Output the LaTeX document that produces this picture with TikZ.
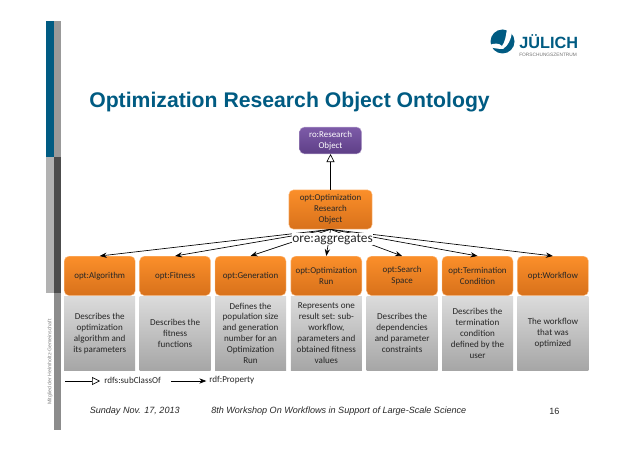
\documentclass[tikz,border=0pt]{standalone}
\usepackage{fontspec}
\setmainfont{Carlito}
\newfontfamily\arialfont{Liberation Sans}
\usetikzlibrary{arrows.meta, positioning}
\definecolor{fzjblue}{HTML}{005B82}
\definecolor{optorange}{HTML}{FB8F2A}
\definecolor{optorangedark}{HTML}{D8711B}
\definecolor{ropurple}{HTML}{7D5BA8}
\definecolor{ropurpledark}{HTML}{5E3F87}
\tikzset{
  optbox/.style={rounded corners=3.5pt, top color=optorange, bottom color=optorangedark, draw=optorange!50!white, line width=0.3pt, minimum width=53.25pt, minimum height=29.5pt, inner sep=1pt, align=center, text=black!85, font=\fontsize{6.7}{8.2}\selectfont},
  descbox/.style={top color=black!14, bottom color=black!35, minimum width=53.25pt, minimum height=55.5pt, inner sep=0pt, align=center, text=black!85, font=\fontsize{6.8}{8.2}\selectfont},
  legendtext/.style={inner sep=0pt, anchor=west, text=black!85, font=\fontsize{6.8}{8}\selectfont},
  foottext/.style={inner sep=0pt, anchor=west, text=black!85, font=\arialfont\fontsize{6.8}{8}\selectfont}
}
\begin{document}
\begin{tikzpicture}[x=0.75pt, y=-0.75pt, >=Stealth]
  \useasboundingbox (0,0) rectangle (638,452);
  % side bars
  \fill[fzjblue] (46,21) rectangle (53.5,157);
  \fill[black!40] (53.5,21) rectangle (61,157);
  \fill[black!30] (46,157) rectangle (53.5,293);
  \fill[black!70] (53.5,157) rectangle (61,293);
  \fill[black!45] (53.5,293) rectangle (61,430);
  \node[rotate=90, inner sep=0pt, text=black!50, font=\arialfont\fontsize{3.9}{4}\selectfont] (member) at (50,362) {Mitglied der Helmholtz-Gemeinschaft};
  % logo
  \fill[fzjblue] (502.5,41.5) circle (12);
  \fill[white] (489,45) .. controls (495,43) and (499,43) .. (502,46) .. controls (505,42) and (506,36) .. (507,28) -- (512,30) .. controls (512,38) and (508,46) .. (503,49) .. controls (498,49) and (493,48) .. (489,47) -- cycle;
  \node[inner sep=0pt, anchor=west, text=fzjblue, font=\arialfont\bfseries\fontsize{12.2}{13}\selectfont] (juelich) at (519,42) {JÜLICH};
  \node[inner sep=0pt, anchor=west, text=black!55, font=\arialfont\fontsize{3.6}{4}\selectfont] (fzj) at (519,55) {FORSCHUNGSZENTRUM};
  % title
  \node[inner sep=0pt, anchor=west, text=fzjblue, font=\arialfont\bfseries\fontsize{15.9}{18}\selectfont] (title) at (89,102.5) {Optimization Research Object Ontology};
  % classes
  \node[optbox, top color=ropurple, bottom color=ropurpledark, draw=ropurple!50!white, text=white, minimum width=46.5pt, minimum height=20pt] (ro) at (330.5,140.5) {ro:Research\\Object};
  \node[optbox, minimum width=62.5pt] (oro) at (330.5,209.5) {opt:Optimization\\Research\\Object};
  \node[optbox, anchor=north west] (alg) at (64,256) {opt:Algorithm};
  \node[optbox, right=3pt of alg] (fit) {opt:Fitness};
  \node[optbox, right=3pt of fit] (gen) {opt:Generation};
  \node[optbox, right=3.3pt of gen] (run) {opt:Optimization\\Run};
  \node[optbox, right=3.3pt of run] (space) {opt:Search\\Space};
  \node[optbox, right=3pt of space] (term) {opt:Termination\\Condition};
  \node[optbox, right=3pt of term] (wf) {opt:Workflow};
  % descriptions
  \node[descbox, below=0.2pt of alg] (algd) {Describes the\\optimization\\algorithm and\\its parameters};
  \node[descbox, below=0.2pt of fit] (fitd) {Describes the\\fitness\\functions};
  \node[descbox, below=0.2pt of gen] (gend) {Defines the\\population size\\and generation\\number for an\\Optimization\\Run};
  \node[descbox, below=0.2pt of run] (rund) {Represents one\\result set: sub-\\workflow,\\parameters and\\obtained fitness\\values};
  \node[descbox, below=0.2pt of space] (spaced) {Describes the\\dependencies\\and parameter\\constraints};
  \node[descbox, below=0.2pt of term] (termd) {Describes the\\termination\\condition\\defined by the\\user};
  \node[descbox, below=0.2pt of wf] (wfd) {The workflow\\that was\\optimized};
  % relations
  \draw[-{Triangle[open, length=6pt, width=6pt]}, line width=0.5pt] (oro) -- (ro);
  \draw[->, line width=0.5pt] (oro.south) -- (alg.north);
  \draw[->, line width=0.5pt] (oro.south) -- (fit.north);
  \draw[->, line width=0.5pt] (oro.south) -- (gen.north);
  \draw[->, line width=0.5pt] (oro.south) -- (run.north);
  \draw[->, line width=0.5pt] (oro.south) -- (space.north);
  \draw[->, line width=0.5pt] (oro.south) -- (term.north);
  \draw[->, line width=0.5pt] (oro.south) -- (wf.north);
  \node[fill=white, inner sep=0.3pt, text=black!85, font=\fontsize{10}{11}\selectfont] (agg) at (332.5,239) {ore:aggregates};
  % legend
  \coordinate (subfrom) at (65,381);
  \node[legendtext] (sub) at (104,380) {rdfs:subClassOf};
  \draw[-{Triangle[open, length=6pt, width=6pt]}, line width=0.5pt, shorten >=3pt] (subfrom) -- (sub.west |- subfrom);
  \coordinate (propfrom) at (171,381);
  \node[legendtext] (prop) at (209,380) {rdf:Property};
  \draw[->, line width=0.5pt, shorten >=2pt] (propfrom) -- (prop.west |- propfrom);
  % footer
  \node[foottext] (date) at (89.5,411) {\itshape Sunday Nov. 17, 2013};
  \node[foottext] (event) at (211,411) {\itshape 8th Workshop On Workflows in Support of Large-Scale Science};
  \node[foottext] (page) at (549,411) {16};
\end{tikzpicture}
\end{document}
